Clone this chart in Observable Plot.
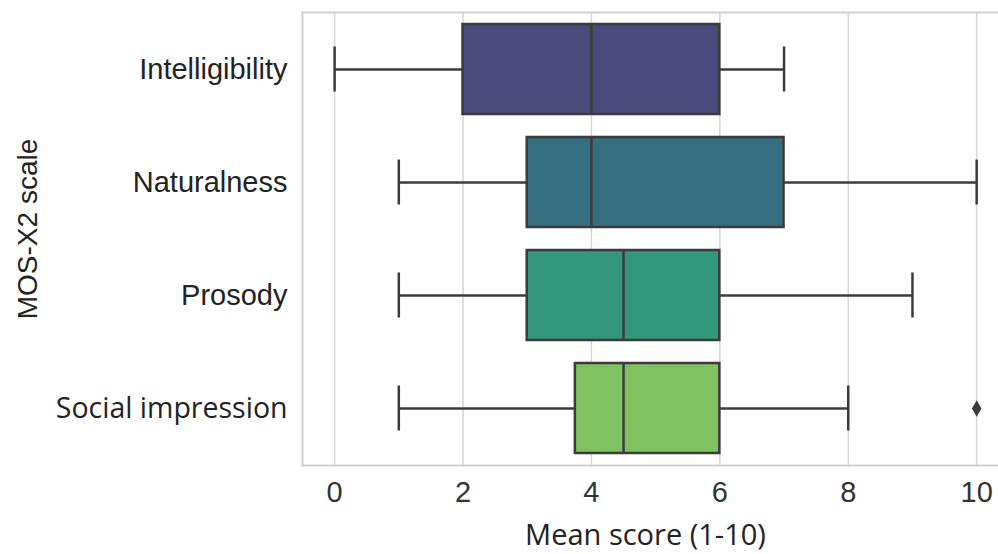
<!DOCTYPE html>
<html>
<head>
<meta charset="utf-8">
<script src="https://cdn.jsdelivr.net/npm/d3@7"></script>
<script src="https://cdn.jsdelivr.net/npm/@observablehq/plot@0.6"></script>
<style>
  html, body { margin: 0; padding: 0; background: #fff; }
</style>
</head>
<body>
<div id="chart"></div>
<script>
const categories = ["Intelligibility", "Naturalness", "Prosody", "Social impression"];
const whiskerLow = [0, 1, 1, 1];
const quartile1 = [2, 3, 3, 3.75];
const medians = [4, 4, 4.5, 4.5];
const quartile3 = [6, 7, 6, 6];
const whiskerHigh = [7, 10, 9, 8];
const outlierCategories = ["Social impression"];
const outlierValues = [10];
const boxColors = ["#4a4a7c", "#367080", "#33977b", "#80c260"];
const xTicks = [0, 2, 4, 6, 8, 10];

const rows = categories.map((c, i) => ({
  cat: c, low: whiskerLow[i], q1: quartile1[i], med: medians[i], q3: quartile3[i], high: whiskerHigh[i]
}));
const outliers = outlierCategories.map((c, i) => ({cat: c, value: outlierValues[i]}));

const ink = "#3b3b3b";
const arial = "'Liberation Sans', Arial, sans-serif";
const calibriLike = "'Open Sans', sans-serif";

const chart = Plot.plot({
  width: 998,
  height: 554,
  marginTop: 12,
  marginBottom: 89,
  marginLeft: 302,
  marginRight: 0,
  style: {background: "#fff", color: "#333"},
  x: {domain: [-0.5, 10.34]},
  y: {domain: categories, paddingInner: 0.2, paddingOuter: 0.1},
  color: {domain: categories, range: boxColors},
  marks: [
    Plot.gridX(xTicks, {stroke: "#d6d6d6", strokeOpacity: 1, strokeWidth: 1.5}),
    Plot.frame({anchor: "top", stroke: "#cfcfcf", strokeWidth: 2}),
    Plot.frame({anchor: "bottom", stroke: "#cfcfcf", strokeWidth: 2}),
    Plot.frame({anchor: "left", stroke: "#cfcfcf", strokeWidth: 2}),
    Plot.ruleY(rows, {y: "cat", x1: "low", x2: "q1", stroke: ink, strokeWidth: 2.5}),
    Plot.ruleY(rows, {y: "cat", x1: "q3", x2: "high", stroke: ink, strokeWidth: 2.5}),
    Plot.tickX(rows, {x: "low", y: "cat", insetTop: 22.5, insetBottom: 22.5, stroke: ink, strokeWidth: 2.5}),
    Plot.tickX(rows, {x: "high", y: "cat", insetTop: 22.5, insetBottom: 22.5, stroke: ink, strokeWidth: 2.5}),
    Plot.barX(rows, {y: "cat", x1: "q1", x2: "q3", fill: "cat", stroke: ink, strokeWidth: 2.5}),
    Plot.tickX(rows, {x: "med", y: "cat", stroke: ink, strokeWidth: 2.5}),
    Plot.dot(outliers, {x: "value", y: "cat", symbol: "diamond", r: 5, fill: ink, stroke: "none"}),
    Plot.axisX({ticks: xTicks, tickSize: 0, tickPadding: 16, fontSize: 29, fontFamily: arial, label: null, color: "#333"}),
    Plot.axisY(categories.slice(0, 3), {tickSize: 0, tickPadding: 15, fontSize: 29, fontFamily: arial, label: null, color: "#222"}),
    Plot.axisY(categories.slice(3), {tickSize: 0, tickPadding: 15, fontSize: 28.5, fontFamily: calibriLike, label: null, color: "#222"}),
    Plot.text(["Mean score (1-10)"], {frameAnchor: "bottom", textAnchor: "middle", dy: 79, dx: -5, fontSize: 29, fontFamily: calibriLike, fill: "#222"}),
    Plot.text(["MOS-X2 scale"], {frameAnchor: "left", textAnchor: "middle", rotate: -90, dx: -274, dy: -10, fontSize: 28, fontFamily: arial, fill: "#222"})
  ]
});
document.getElementById("chart").appendChild(chart);
</script>
</body>
</html>
